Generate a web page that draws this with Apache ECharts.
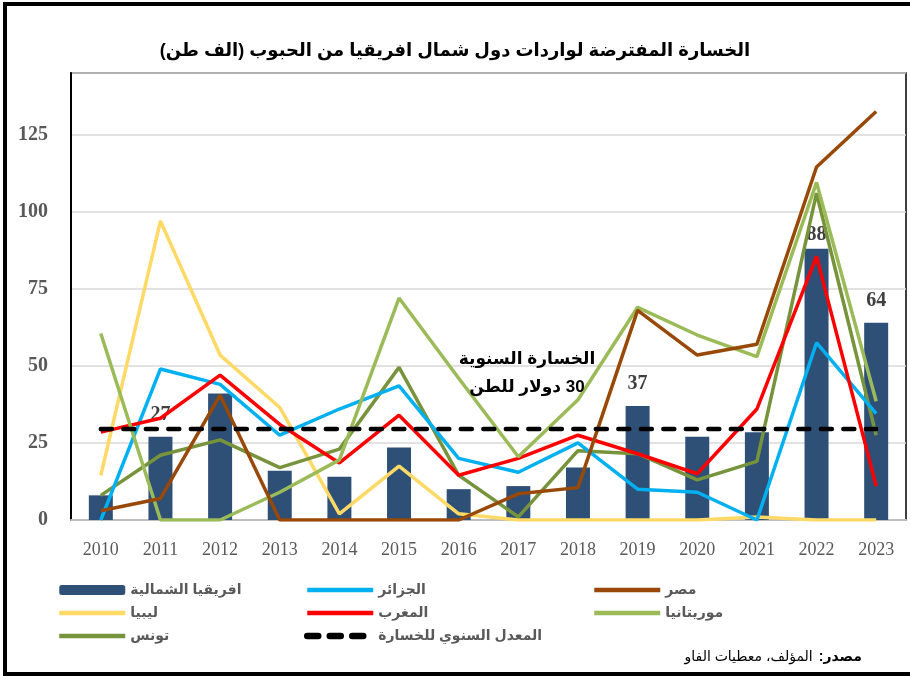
<!DOCTYPE html>
<html>
<head>
<meta charset="utf-8">
<script src="https://cdn.jsdelivr.net/npm/echarts@6/dist/echarts.min.js"></script>
<style>
html,body{margin:0;padding:0;background:#fff;}
#c{width:910px;height:676px;direction:rtl;}
</style>
</head>
<body>
<div id="c"></div>
<script>
var years = ['2010','2011','2012','2013','2014','2015','2016','2017','2018','2019','2020','2021','2022','2023'];
var northAfrica = [8, 27, 41, 16, 14, 23.5, 10, 11, 17, 37, 27, 28.5, 88, 64];
var algeria = [0, 49, 44, 27.5, 36, 43.5, 20, 15.5, 25, 10, 9, 0, 57.5, 34.5];
var egypt = [3, 7, 40.5, 0, 0, 0, 0, 8.5, 10.5, 68, 53.5, 57, 114.5, 132.5];
var libya = [14.5, 97, 53.5, 36.5, 2, 17.5, 2, 0, 0, 0, 0, 1, 0, 0];
var morocco = [28.5, 33, 47, 31, 18.5, 34, 14.5, 20, 27.5, 21.5, 15, 36, 85.5, 11];
var mauritania = [60.5, 0, 0, 9, 19.5, 72, 46, 20.5, 39, 69, 60, 53, 109.5, 38.5];
var tunisia = [8, 21, 26, 17, 23, 49.5, 14.5, 1, 22.5, 21.5, 13, 19, 106, 27.5];
var annualLoss = [29.5, 29.5, 29.5, 29.5, 29.5, 29.5, 29.5, 29.5, 29.5, 29.5, 29.5, 29.5, 29.5, 29.5];
var labeledBars = [1, 9, 12, 13];
var yTicks = {min: 0, max: 145, interval: 25};

var names = {
  na: 'افريقيا الشمالية', dz: 'الجزائر', eg: 'مصر', ly: 'ليبيا', ma: 'المغرب',
  mr: 'موريتانيا', tn: 'تونس', avg: 'المعدل السنوي للخسارة'
};

var SANS = "Arial, 'Liberation Sans', 'DejaVu Sans', sans-serif";
var SERIF = "'Times New Roman', 'Liberation Serif', serif";

var barData = northAfrica.map(function (v, i) {
  var item = {value: v};
  if (labeledBars.indexOf(i) >= 0) {
    item.label = {show: true, distance: i === 12 ? 4 : 12};
  }
  return item;
});

function lineSeries(name, data, color, z) {
  return {
    name: name, type: 'line', data: data, symbol: 'none', z: z,
    lineStyle: {color: color, width: 3.5}, itemStyle: {color: color}
  };
}

var hiddenSymbol = {color: 'rgba(0,0,0,0)', borderColor: 'rgba(0,0,0,0)', borderWidth: 0, opacity: 0};
function lineItem(n, w) { return {name: n, itemStyle: hiddenSymbol, lineStyle: {width: w || 4.5}}; }

var legendCommon = {
  orient: 'vertical', itemWidth: 66, itemHeight: 10, itemGap: 5,
  top: 576, selectedMode: false,
  lineStyle: {width: 4.5},
  textStyle: {fontFamily: SANS, fontSize: 14, fontWeight: 'bold', color: '#595959', lineHeight: 18}
};

var chart = echarts.init(document.getElementById('c'), null, {renderer: 'canvas'});
chart.setOption({
  backgroundColor: '#fff',
  animation: false,
  title: {
    text: 'الخسارة المفترضة لواردات دول شمال افريقيا من الحبوب (الف طن)',
    left: 'center', top: 37,
    textStyle: {fontFamily: SANS, fontSize: 18, fontWeight: 'bold', color: '#000'}
  },
  grid: {
    left: 71, top: 73, right: 4, bottom: 156, containLabel: false, outerBoundsMode: 'none',
    show: true, borderColor: '#000', borderWidth: 1.5, backgroundColor: 'transparent'
  },
  legend: [
    Object.assign({}, legendCommon, {left: 52, data: [{name: names.na}, lineItem(names.ly), lineItem(names.tn)]}),
    Object.assign({}, legendCommon, {left: 299, data: [lineItem(names.dz), lineItem(names.ma), lineItem(names.avg, 6.5)]}),
    Object.assign({}, legendCommon, {left: 587, data: [lineItem(names.eg), lineItem(names.mr)]})
  ],
  xAxis: {
    type: 'category', data: years, boundaryGap: true,
    axisLine: {show: true, lineStyle: {color: '#bfbfbf', width: 2}},
    axisTick: {show: false},
    axisLabel: {fontFamily: SERIF, fontSize: 18, color: '#595959', margin: 21, interval: 0}
  },
  yAxis: {
    type: 'value', min: yTicks.min, max: yTicks.max, interval: yTicks.interval,
    axisLine: {show: true, lineStyle: {color: '#000', width: 2}},
    axisTick: {show: false},
    axisLabel: {fontFamily: SERIF, fontSize: 20, fontWeight: 'bold', color: '#595959', margin: 23, showMaxLabel: false},
    splitLine: {show: true, lineStyle: {color: '#d9d9d9', width: 1.5}}
  },
  series: [
    {
      name: names.na, type: 'bar', data: barData, barWidth: 24, z: 1,
      itemStyle: {color: '#2E5077'},
      label: {show: false, position: 'top', fontFamily: SERIF, fontSize: 20, fontWeight: 'bold', color: '#404040'}
    },
    lineSeries(names.ly, libya, '#FFD966', 2),
    lineSeries(names.tn, tunisia, '#77933C', 3),
    lineSeries(names.dz, algeria, '#00B0F0', 3),
    lineSeries(names.ma, morocco, '#FF0000', 3),
    lineSeries(names.mr, mauritania, '#9BBB59', 3),
    lineSeries(names.eg, egypt, '#984807', 3),
    {
      name: names.avg, type: 'line', data: annualLoss, symbol: 'none', z: 4,
      lineStyle: {color: '#000', width: 4.5, type: [11, 11.5], cap: 'round'},
      itemStyle: {color: '#000'}
    }
  ],
  graphic: [
    {
      type: 'rect', silent: true, z: 100,
      shape: {x: 5, y: 4, width: 920, height: 670},
      style: {fill: 'none', stroke: '#000', lineWidth: 4}
    },
    {
      type: 'text', z: 50, x: 527, y: 373,
      style: {
        text: 'الخسارة السنوية\n30 دولار للطن', align: 'center', verticalAlign: 'middle',
        font: "bold 17px " + SANS, fill: '#000', lineHeight: 28
      }
    },
    {
      type: 'text', z: 50, x: 862, y: 657,
      style: {
        text: '{n|المؤلف، معطيات الفاو}{s| }{b|مصدر:}', align: 'right', verticalAlign: 'middle',
        rich: {
          n: {fontFamily: SANS, fontSize: 14, color: '#000'},
          s: {fontFamily: SANS, fontSize: 14, color: '#000', width: 6},
          b: {fontFamily: SANS, fontSize: 14, fontWeight: 'bold', color: '#000'}
        }
      }
    }
  ]
});
</script>
</body>
</html>
